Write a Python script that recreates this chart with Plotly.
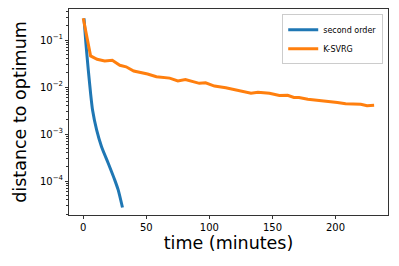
import plotly.graph_objects as go

# second order
so_t = [0.6, 2.1, 4, 5.8, 7.4, 10.6, 14.5, 19.8, 25, 27.7, 31.1]
so_y = [0.29, 0.085, 0.023, 0.0074, 0.0032, 0.00123, 0.00054, 0.00024, 0.000105, 6.5e-05, 2.75e-05]
# K-SVRG
ks_t = [0, 5.8, 11, 17, 23, 29, 34, 40, 51, 58, 68.5, 75, 81, 92, 97, 104, 113, 121, 126, 133,
        138.5, 147.6, 155.5, 162, 167, 171, 178, 184.5, 190, 196, 201.5, 208, 216, 220, 225, 230.6]
ks_y = [0.29, 0.046, 0.039, 0.036, 0.037, 0.029, 0.027, 0.022, 0.019, 0.0166, 0.0155, 0.0135,
        0.0145, 0.012, 0.0123, 0.0105, 0.0097, 0.0087, 0.0084, 0.0074, 0.0078, 0.0074, 0.0066,
        0.0067, 0.006, 0.006, 0.0055, 0.0053, 0.005, 0.005, 0.0047, 0.0044, 0.0044, 0.0043,
        0.004, 0.0041]

x_ticks = [0, 50, 100, 150, 200]
y_ticks = [1e-4, 1e-3, 1e-2, 1e-1]
y_ticktext = ["10<sup>\u22124</sup>", "10<sup>\u22123</sup>", "10<sup>\u22122</sup>", "10<sup>\u22121</sup>"]

minor_vals = []
for e in range(-5, 0):
    for m in range(2, 10):
        minor_vals.append(m * 10 ** e)

fig = go.Figure()
fig.add_trace(go.Scatter(x=so_t, y=so_y, mode="lines", name="second order",
                         line=dict(color="#1f77b4", width=3, shape="spline", smoothing=0.6)))
fig.add_trace(go.Scatter(x=ks_t, y=ks_y, mode="lines", name="K-SVRG",
                         line=dict(color="#ff7f0e", width=3)))

fig.update_layout(
    width=399, height=266,
    margin=dict(l=69, r=11, t=9, b=51),
    paper_bgcolor="white", plot_bgcolor="white",
    font=dict(family="DejaVu Sans", color="black", size=10),
    showlegend=True,
    legend=dict(x=0.985, y=0.975, xanchor="right", yanchor="top",
                bgcolor="rgba(255,255,255,0.8)", bordercolor="#cccccc", borderwidth=1,
                font=dict(size=8), itemwidth=30, tracegroupgap=0),
    xaxis=dict(range=[-11.3, 241.6], tickvals=x_ticks, showgrid=False, zeroline=False,
               automargin=False,
               showline=True, linecolor="#333", linewidth=1, mirror=True,
               ticks="outside", ticklen=3, tickcolor="#333",
               title=dict(text="time (minutes)", font=dict(size=17.5), standoff=4)),
    yaxis=dict(type="log", range=[-4.72, -0.34], tickvals=y_ticks, ticktext=y_ticktext,
               showgrid=False, zeroline=False, automargin=False,
               showline=True, linecolor="#333", linewidth=1, mirror=True,
               ticks="outside", ticklen=3, tickcolor="#333",
               minor=dict(tickvals=minor_vals, ticks="outside", ticklen=2, tickcolor="#333"),
               title=dict(text="distance to optimum", font=dict(size=17.5), standoff=8)),
)

fig.write_html("out.html", config={"displayModeBar": False},
               post_script="document.body.style.margin='0';document.body.style.padding='0';")
